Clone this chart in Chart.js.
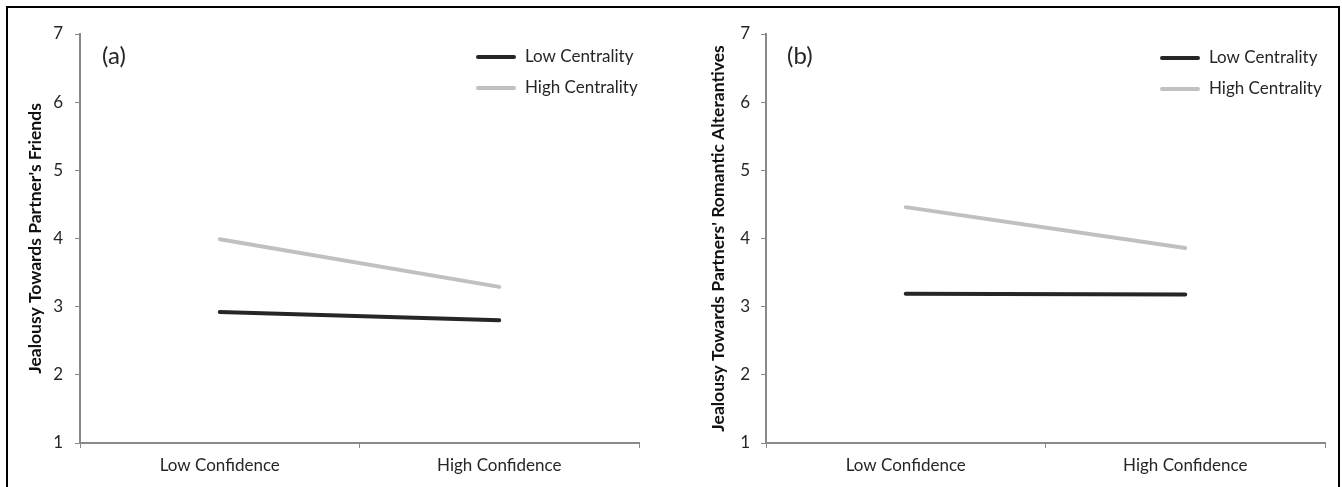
<!DOCTYPE html>
<html lang="en">
<head>
    <meta charset="UTF-8">
    <title>Jealousy by Confidence and Centrality</title>
    <script src="https://cdn.jsdelivr.net/npm/chart.js@4.4.1/dist/chart.umd.min.js"></script>
    <style>
        body {
            margin: 0;
            padding: 0;
            background-color: #fff;
            font-family: Lato, Arial, sans-serif;
        }
        .frame {
            position: absolute;
            left: 6px;
            top: 6px;
            width: 1330px;
            height: 490px;
            border-top: 2px solid #000;
            border-left: 2px solid #000;
            border-right: 2px solid #000;
        }
        .panel {
            position: absolute;
        }
        #panelA { left: 9px; top: 9px; }
        #panelB { left: 680px; top: 9px; }
    </style>
</head>
<body>
    <div class="frame"></div>
    <div class="panel" id="panelA"><canvas id="chartA" width="650" height="478"></canvas></div>
    <div class="panel" id="panelB"><canvas id="chartB" width="660" height="478"></canvas></div>

    <script>
        // data
        const categories = ['Low Confidence', 'High Confidence'];
        const seriesNames = ['Low Centrality', 'High Centrality'];
        const friendsLowCentrality = [2.92, 2.80];
        const friendsHighCentrality = [3.99, 3.29];
        const romanticLowCentrality = [3.19, 3.18];
        const romanticHighCentrality = [4.46, 3.86];
        const yMin = 1;
        const yMax = 7;

        const AXIS_GRAY = '#898989';
        const TEXT = '#262626';
        const LINE_DARK = '#262626';
        const LINE_LIGHT = '#c0c0c0';

        // legend + panel letter drawn inside the plot
        const panelDecor = {
            id: 'panelDecor',
            afterDraw(chart, args, opts) {
                const ctx = chart.ctx;
                ctx.save();
                ctx.font = '24px Lato, Arial, sans-serif';
                ctx.fillStyle = TEXT;
                ctx.textBaseline = 'middle';
                ctx.textAlign = 'left';
                ctx.fillText(opts.letter, opts.letterX, opts.letterY);

                ctx.font = '17px Lato, Arial, sans-serif';
                chart.data.datasets.forEach((ds, i) => {
                    const y = opts.legendY + i * opts.rowGap;
                    ctx.strokeStyle = ds.borderColor;
                    ctx.lineWidth = 4;
                    ctx.lineCap = 'round';
                    ctx.beginPath();
                    ctx.moveTo(opts.legendX, y);
                    ctx.lineTo(opts.legendX + 36, y);
                    ctx.stroke();
                    ctx.fillStyle = TEXT;
                    ctx.fillText(ds.label, opts.legendX + 47, y);
                });
                ctx.restore();
            }
        };

        function makeChart(id, lowVals, highVals, yTitle, cfg) {
            const ctx = document.getElementById(id).getContext('2d');
            return new Chart(ctx, {
                type: 'line',
                data: {
                    labels: categories,
                    datasets: [{
                        label: seriesNames[0],
                        data: lowVals,
                        borderColor: LINE_DARK,
                        borderWidth: 4,
                        borderCapStyle: 'round',
                        pointRadius: 0,
                        tension: 0
                    }, {
                        label: seriesNames[1],
                        data: highVals,
                        borderColor: LINE_LIGHT,
                        borderWidth: 4,
                        borderCapStyle: 'round',
                        pointRadius: 0,
                        tension: 0
                    }]
                },
                options: {
                    responsive: false,
                    animation: false,
                    layout: {
                        padding: { left: 0, top: 25, right: cfg.rightPad, bottom: 0 }
                    },
                    plugins: {
                        legend: { display: false },
                        tooltip: { enabled: false },
                        panelDecor: cfg.decor
                    },
                    scales: {
                        x: {
                            type: 'category',
                            offset: true,
                            grid: {
                                offset: true,
                                drawOnChartArea: false,
                                color: AXIS_GRAY,
                                lineWidth: 1,
                                tickLength: 5
                            },
                            border: { color: AXIS_GRAY, width: 2 },
                            ticks: {
                                color: TEXT,
                                padding: 7,
                                font: { family: 'Lato', size: 17 },
                                maxRotation: 0
                            },
                            afterFit(scale) { scale.height = 44; }
                        },
                        y: {
                            min: yMin,
                            max: yMax,
                            grid: {
                                drawOnChartArea: false,
                                color: AXIS_GRAY,
                                lineWidth: 1,
                                tickLength: 5
                            },
                            border: { color: AXIS_GRAY, width: 2 },
                            ticks: {
                                stepSize: 1,
                                color: TEXT,
                                padding: cfg.tickPad,
                                font: { family: 'Lato', size: 17 }
                            },
                            title: {
                                display: true,
                                text: yTitle,
                                color: '#111111',
                                font: { family: 'Lato', size: 17.5, weight: 'bold' },
                                padding: { top: cfg.titlePad, bottom: 0 }
                            },
                            afterFit(scale) { scale.width = cfg.yWidth; }
                        }
                    }
                },
                plugins: [panelDecor]
            });
        }

        makeChart('chartA', friendsLowCentrality, friendsHighCentrality,
            "Jealousy Towards Partner's Friends", {
                rightPad: 20, yWidth: 71, tickPad: 12, titlePad: 16,
                decor: { letter: '(a)', letterX: 93, letterY: 47, legendX: 469, legendY: 48, rowGap: 31 }
            });

        makeChart('chartB', romanticLowCentrality, romanticHighCentrality,
            "Jealousy Towards Partners' Romantic Alterantives", {
                rightPad: 15, yWidth: 86, tickPad: 11, titlePad: 28,
                decor: { letter: '(b)', letterX: 107, letterY: 47, legendX: 482, legendY: 49, rowGap: 31 }
            });
    </script>
</body>
</html>
